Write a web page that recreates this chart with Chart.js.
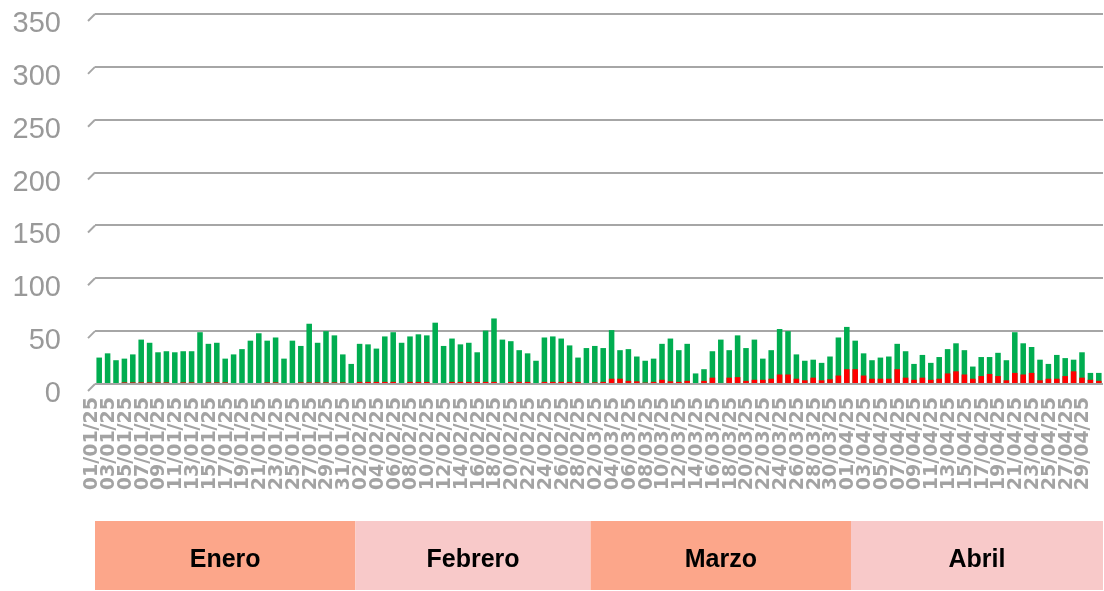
<!DOCTYPE html>
<html>
<head>
<meta charset="utf-8">
<script src="https://cdn.jsdelivr.net/npm/chart.js@4/dist/chart.umd.min.js"></script>
<style>
    html, body { margin: 0; padding: 0; background: #fff; }
    canvas { display: block; }
</style>
</head>
<body>
<canvas id="grafico" width="1104" height="591"></canvas>
<script>
// ===============================
// DATOS
// ===============================
const meses = ["Enero", "Febrero", "Marzo", "Abril"];
const diasMes = [31, 28, 31, 30];
const numMes = ["01", "02", "03", "04"];
const coloresMes = ["#fca68a", "#f8c9c9", "#fca68a", "#f8c9c9"];

const verdeEne = [25, 29, 22.5, 24, 28, 42, 39, 30, 31, 30, 31, 31, 49, 38, 39, 24, 28, 33, 41, 48, 41, 44, 24, 41, 36, 57, 39, 50, 46, 28, 19];
const verdeFeb = [38, 37.5, 33.5, 45, 49, 39, 45, 47, 46, 58, 36, 43, 37.5, 39, 30, 50.5, 62, 42, 40.5, 32, 29, 22, 44, 45, 43, 36.5, 25, 34];
const verdeMar = [36, 34, 51, 32, 33, 26, 22, 24, 38, 43, 32, 38, 10, 14, 31, 42, 32, 46, 34, 42, 24, 32, 52, 50, 28, 22, 23, 20, 26, 44, 54];
const verdeAbr = [41, 29, 22.5, 25, 26, 38, 31, 19, 27.5, 20, 25.5, 33, 38.5, 32, 16.5, 25.5, 25.5, 29.5, 22.5, 49, 38.5, 35, 23, 19, 27.5, 24.5, 23, 30, 10.5, 10.5];

const rojoEne = [0, 0, 0, 1.5, 1.5, 1.5, 1.5, 1.5, 1.5, 0, 1.5, 1.5, 0, 1.5, 1.5, 1.5, 0, 0, 0, 0, 1.5, 1.5, 0, 0, 1.5, 1.5, 1.5, 1.5, 1.5, 1.5, 0];
const rojoFeb = [2, 2, 2, 2, 2, 0, 2, 2, 2, 0, 0, 2, 2, 2, 2, 2, 2, 0, 2, 2, 2, 0, 2, 2, 2, 2, 2, 0];
const rojoMar = [1.5, 2, 5, 5, 3, 2.5, 1.3, 2, 4, 2.5, 2, 3, 0, 3, 6, 1, 6, 6.5, 3, 4, 4, 5, 9, 9, 5, 3.5, 6, 3.5, 4.5, 8, 14];
const rojoAbr = [14, 8, 5, 5, 5, 14, 6, 4, 6, 4, 5, 10, 12, 9, 5, 7.5, 9.5, 7.5, 3.5, 10.5, 9, 10.5, 3.5, 5, 5, 7.5, 12, 6, 4, 3];

const verde = [...verdeEne, ...verdeFeb, ...verdeMar, ...verdeAbr];
const rojo = [...rojoEne, ...rojoFeb, ...rojoMar, ...rojoAbr];

// etiquetas dd/mm/25
const etiquetas = [];
diasMes.forEach((n, k) => {
    for (let d = 1; d <= n; d++) {
        etiquetas.push(String(d).padStart(2, "0") + "/" + numMes[k] + "/25");
    }
});

// ===============================
// PLUGINS
// ===============================
// pequeña diagonal 3D a la izquierda de cada línea de cuadrícula
const diagonales = {
    id: "diagonales",
    beforeDatasetsDraw(chart) {
        const y = chart.scales.y;
        const ctx = chart.ctx;
        ctx.save();
        ctx.strokeStyle = "#a6a6a6";
        ctx.lineWidth = 2;
        y.ticks.forEach(t => {
            const py = y.getPixelForValue(t.value);
            ctx.beginPath();
            ctx.moveTo(chart.chartArea.left - 7, py + 7);
            ctx.lineTo(chart.chartArea.left, py);
            ctx.stroke();
        });
        ctx.restore();
    }
};

// bandas de meses bajo el eje
const bandasMes = {
    id: "bandasMes",
    afterDraw(chart) {
        const x = chart.scales.x;
        const ctx = chart.ctx;
        const paso = (x.right - x.left) / etiquetas.length;
        let inicio = 0;
        ctx.save();
        meses.forEach((m, k) => {
            const fin = inicio + diasMes[k] - 1;
            const x0 = x.getPixelForValue(inicio) - paso / 2;
            const x1 = x.getPixelForValue(fin) + paso / 2;
            ctx.fillStyle = coloresMes[k];
            ctx.fillRect(x0, 521, x1 - x0, 69);
            ctx.fillStyle = "#000";
            ctx.font = 'bold 25px "Liberation Sans", Arial, sans-serif';
            ctx.textAlign = "center";
            ctx.textBaseline = "middle";
            ctx.fillText(m, (x0 + x1) / 2, 560);
            inicio = fin + 1;
        });
        ctx.restore();
    }
};

// ===============================
// GRÁFICO
// ===============================
new Chart(document.getElementById("grafico"), {
    type: "bar",
    data: {
        labels: etiquetas,
        datasets: [
            {
                label: "Rojo",
                data: rojo,
                backgroundColor: "#ff0000",
                grouped: false,
                order: 0,
                barPercentage: 0.66,
                categoryPercentage: 1
            },
            {
                label: "Verde",
                data: verde,
                backgroundColor: "#00ad50",
                grouped: false,
                order: 1,
                barPercentage: 0.66,
                categoryPercentage: 1
            }
        ]
    },
    options: {
        responsive: false,
        animation: false,
        layout: { padding: { top: 14, right: 1, left: 0, bottom: 0 } },
        plugins: {
            legend: { display: false },
            tooltip: { enabled: false }
        },
        scales: {
            x: {
                grid: { display: false, drawTicks: false },
                border: { display: false },
                ticks: {
                    autoSkip: false,
                    minRotation: 90,
                    maxRotation: 90,
                    padding: 13,
                    labelOffset: -7,
                    color: "#a3a3a3",
                    font: { family: "DejaVu Sans", weight: "bold", size: 19 },
                    callback: (v, i) => (i % 2 === 0 ? etiquetas[i] : "")
                },
                afterFit: s => {
                    s.height = 207;
                    s.paddingLeft = 0;
                    s.paddingRight = 0;
                }
            },
            y: {
                min: 0,
                max: 350,
                ticks: {
                    stepSize: 50,
                    padding: 34,
                    labelOffset: 10,
                    color: "#999999",
                    font: { family: "Liberation Sans", size: 29 }
                },
                grid: { color: "#a6a6a6", lineWidth: 2, drawTicks: false },
                border: { display: false },
                afterFit: s => {
                    s.width = 95;
                    s.paddingTop = 0;
                    s.paddingBottom = 0;
                }
            }
        }
    },
    plugins: [diagonales, bandasMes]
});
</script>
</body>
</html>
